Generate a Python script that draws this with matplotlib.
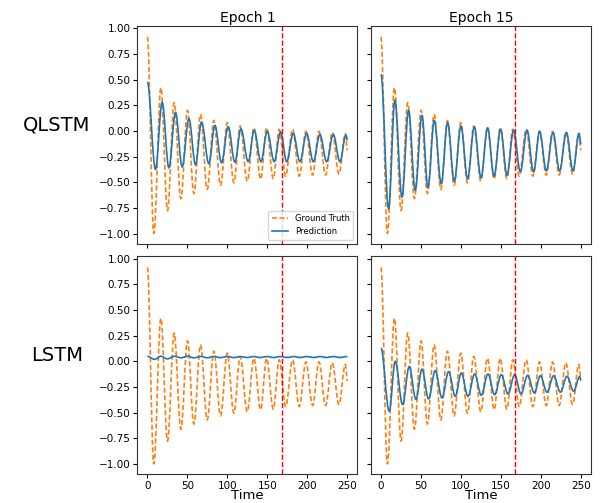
import matplotlib
matplotlib.use('Agg')
import matplotlib.pyplot as plt
from matplotlib.path import Path
from matplotlib.patches import PathPatch
from matplotlib.lines import Line2D

# turning points (peaks / troughs)
gt_t = [0, 8.1, 16.9, 25.2, 33.5, 41.9, 50.2, 58.1, 66.5, 74.8, 83.1, 91.5, 99.8, 108.1,
        116.0, 124.8, 133.1, 141.5, 149.0, 157.3, 164.8, 172.7, 181.5, 189.8, 198.1,
        206.5, 214.4, 222.7, 231.0, 239.4, 247.3, 250]
gt_v = [0.915, -1.0, 0.42, -0.776, 0.275, -0.66, 0.2, -0.61, 0.16, -0.57, 0.10, -0.53,
        0.08, -0.505, 0.047, -0.49, 0.03, -0.47, 0.03, -0.465, 0.015, -0.44, 0.015, -0.44,
        -0.005, -0.43, -0.005, -0.43, -0.015, -0.42, -0.03, -0.19]

q1_t = [0, 10.2, 18.5, 26.9, 35.2, 43.5, 51.9, 60.2, 67.7, 76.9, 84.4, 92.7, 101.0, 109.4,
        116.9, 126.0, 133.5, 141.9, 149.8, 158.5, 166.5, 174.0, 182.3, 190.6, 199.0,
        207.3, 215.6, 224.0, 232.3, 240.6, 248.1, 250]
q1_v = [0.476, -0.375, 0.28, -0.36, 0.18, -0.35, 0.12, -0.33, 0.086, -0.32, 0.054, -0.31,
        0.04, -0.305, 0.02, -0.30, 0.005, -0.30, -0.005, -0.30, -0.01, -0.30, -0.025, -0.30,
        -0.025, -0.30, -0.035, -0.30, -0.035, -0.30, -0.04, -0.09]

q15_t = [0, 9.6, 17.5, 26.3, 34.6, 42.9, 51.3, 58.8, 66.7, 75.4, 83.3, 91.7, 100.0, 108.3,
         116.7, 125.0, 133.3, 141.3, 149.6, 157.5, 165.8, 174.2, 182.5, 190.8, 198.3,
         206.7, 215.0, 223.3, 231.7, 240.0, 247.5, 250]
q15_v = [0.55, -0.76, 0.30, -0.645, 0.20, -0.58, 0.15, -0.55, 0.10, -0.515, 0.08, -0.49,
         0.047, -0.466, 0.04, -0.455, 0.03, -0.44, 0.016, -0.43, 0.006, -0.40, 0.006, -0.40,
         -0.005, -0.39, -0.015, -0.39, -0.015, -0.39, -0.025, -0.13]

l1_t = [0, 9, 17, 25, 34, 42, 50, 58, 67, 75, 83, 91, 100, 108, 116, 125, 133, 141, 150,
        158, 166, 175, 183, 191, 199, 208, 216, 224, 232, 241, 249, 250]
l1_v = [0.05, 0.02, 0.05, 0.025, 0.05, 0.035, 0.05, 0.035, 0.048, 0.035, 0.048, 0.037,
        0.047, 0.037, 0.047, 0.038, 0.047, 0.038, 0.047, 0.038, 0.047, 0.038, 0.047, 0.038,
        0.047, 0.038, 0.047, 0.038, 0.047, 0.038, 0.047, 0.046]

l15_t = [0, 10.4, 17.9, 27.1, 35.4, 43.8, 51.3, 59.6, 67.9, 76.3, 84.6, 92.9, 100.4, 108.8,
         117.1, 125.4, 133.8, 142.1, 150.4, 158.8, 167.1, 175.0, 183.3, 191.7, 199.2,
         207.5, 215.8, 224.2, 232.5, 240.8, 248.3, 250]
l15_v = [0.13, -0.485, 0.0, -0.42, -0.05, -0.37, -0.075, -0.365, -0.09, -0.356, -0.10, -0.34,
         -0.113, -0.34, -0.123, -0.33, -0.123, -0.324, -0.13, -0.317, -0.13, -0.317, -0.136,
         -0.307, -0.14, -0.30, -0.14, -0.30, -0.145, -0.29, -0.15, -0.18]

split_t = 168
col_titles = ['Epoch 1', 'Epoch 15']
row_labels = ['QLSTM', 'LSTM']
preds = [[(q1_t, q1_v), (q15_t, q15_v)], [(l1_t, l1_v), (l15_t, l15_v)]]

GT_COLOR = '#ff7f0e'
PRED_COLOR = '#1f77b4'


def wave(ax, t, v, **kw):
    # smooth curve through the turning points (flat tangent at each one)
    verts = [(t[0], v[0])]
    codes = [Path.MOVETO]
    for i in range(len(t) - 1):
        dt = t[i + 1] - t[i]
        verts += [(t[i] + 0.364 * dt, v[i]), (t[i + 1] - 0.364 * dt, v[i + 1]), (t[i + 1], v[i + 1])]
        codes += [Path.CURVE4] * 3
    ax.add_patch(PathPatch(Path(verts, codes), facecolor='none', **kw))


fig, axes = plt.subplots(2, 2, figsize=(6.01, 5.03), dpi=100, sharex=True, sharey=True)
fig.subplots_adjust(left=0.2285, right=0.9834, top=0.9489, bottom=0.0571, wspace=0.061, hspace=0.057)

for r in range(2):
    for c in range(2):
        ax = axes[r, c]
        wave(ax, gt_t, gt_v, edgecolor=GT_COLOR, linestyle=(0, (3, 1.5)), lw=1.2)
        pt, pv = preds[r][c]
        wave(ax, pt, pv, edgecolor=PRED_COLOR, linestyle='-', lw=1.2)
        ax.axvline(split_t, color='red', linestyle='--', lw=1.0)
        ax.set_xlim(-12.5, 262.5)
        ax.set_ylim(-1.1, 1.025)
        ax.set_xticks([0, 50, 100, 150, 200, 250])
        ax.set_yticks([-1.0, -0.75, -0.5, -0.25, 0.0, 0.25, 0.5, 0.75, 1.0])
        ax.tick_params(labelsize=7.5, length=3, pad=2)
        for s in ax.spines.values():
            s.set_color('#333333')
        if r == 0:
            ax.set_title(col_titles[c], fontsize=10, pad=3)
        if r == 1:
            ax.set_xlabel('Time', fontsize=9.5, labelpad=-1.5)

for r in range(2):
    axes[r, 0].text(-0.365, 0.545, row_labels[r], transform=axes[r, 0].transAxes,
                    fontsize=14, ha='center', va='center')

handles = [Line2D([], [], color=GT_COLOR, linestyle=(0, (3, 1.5)), lw=1.2, label='Ground Truth'),
           Line2D([], [], color=PRED_COLOR, lw=1.2, label='Prediction')]
axes[0, 0].legend(handles=handles, loc='lower right', fontsize=6)

fig.savefig('out.png', dpi=100)
